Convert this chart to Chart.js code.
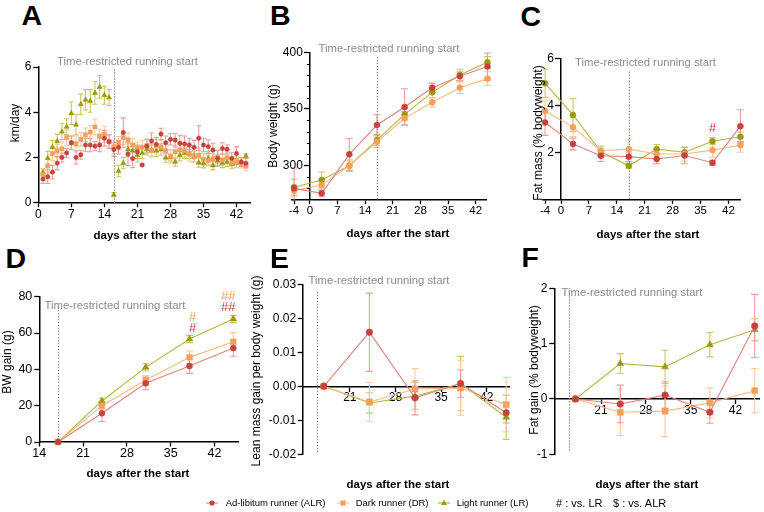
<!DOCTYPE html>
<html><head><meta charset="utf-8">
<script src="https://cdn.jsdelivr.net/npm/chart.js@4/dist/chart.umd.min.js"></script>
<style>
body{margin:0;width:764px;height:512px;background:#fff;position:relative;overflow:hidden;font-family:"Liberation Sans",Arial,sans-serif;}
canvas{position:absolute;}
.t{position:absolute;white-space:nowrap;color:#000;line-height:1;}
.lbl{font-weight:bold;font-size:28.5px;}
.ann{color:#8a8a8a;font-size:11.3px;transform:translate(-50%,-50%);}
.yt{font-size:12px;transform:translate(-50%,-50%) rotate(-90deg);}
.xt{font-size:11.5px;font-weight:bold;transform:translate(-50%,-50%);}
.lg{font-size:9.5px;transform:translateY(-50%);}
.nt{font-size:11px;transform:translateY(-50%);}
</style></head><body>
<script>
// ---------------- DATA ----------------
const runDays = [1,2,3,4,5,6,7,8,9,10,11,12,13,14,15,16,17,18,19,20,21,22,23,24,25,26,27,28,29,30,31,32,33,34,35,36,37,38,39,40,41,42,43,44];
const runALR = [1.05,1.15,1.35,1.75,2.0,2.2,2.65,2.0,2.12,2.55,2.55,2.5,2.55,2.85,2.7,2.35,2.45,3.1,2.15,1.95,2.25,1.67,2.5,2.73,2.58,3.04,2.65,2.8,2.77,2.63,2.6,2.55,2.45,2.85,2.55,2.48,2.33,1.96,2.4,2.36,1.96,2.18,1.8,1.74];
const runALRerr = [0.2,0.3,0.3,0.3,0.2,0.2,0.3,0.3,0.2,0.3,0.3,0.2,0.3,0.35,0.3,0.3,0.3,0.65,0.5,0.4,0.3,0.05,0.3,0.35,0.3,0.25,0.3,0.25,0.3,0.35,0.35,0.3,0.3,0.55,0.3,0.3,0.3,0.35,0.25,0.2,0.25,0.3,0.2,0.2];
const runDR = [1.25,1.63,2.17,2.28,2.38,2.88,2.65,2.6,2.8,3.0,3.12,3.35,2.95,3.03,2.7,2.47,2.63,2.88,2.78,2.55,2.42,2.45,2.5,2.32,2.5,2.45,2.3,2.05,2.25,2.33,2.3,2.14,2.03,2.1,1.92,1.86,1.92,2.03,1.89,1.99,1.77,1.81,1.74,1.62];
const runDRerr = [0.25,0.3,0.3,0.3,0.3,0.35,0.3,0.35,0.3,0.3,0.3,0.35,0.3,0.35,0.3,0.3,0.3,0.3,0.3,0.3,0.25,0.3,0.3,0.3,0.3,0.3,0.3,0.3,0.3,0.25,0.3,0.3,0.25,0.3,0.25,0.25,0.25,0.3,0.25,0.25,0.25,0.25,0.2,0.2];
const runLR = [1.35,1.97,2.45,2.72,3.14,3.36,3.95,3.45,4.35,4.55,4.5,4.85,5.12,4.75,4.65,0.35,1.4,1.75,2.35,2.3,2.1,2.2,2.36,2.3,2.3,2.35,1.99,2.0,1.81,2.1,2.2,2.15,2.05,1.77,1.74,1.96,1.65,1.85,1.75,1.8,1.7,1.75,1.8,2.06];
const runLRerr = [0.15,0.3,0.3,0.3,0.35,0.35,0.5,0.45,0.45,0.45,0.5,0.5,0.5,0.4,0.35,0.1,0.25,0.25,0.3,0.3,0.3,0.25,0.25,0.25,0.25,0.25,0.2,0.15,0.2,0.25,0.25,0.2,0.25,0.2,0.2,0.3,0.2,0.2,0.2,0.2,0.2,0.2,0.2,0.1];

const weekDays = [-4,3,10,17,24,31,38,45];
const bwALR = [280,275.6,310,335.9,351.8,368.8,378.8,387.4];
const bwALRerr = [18,3,14,9,16,4,4,12];
const bwDR = [278,283,300,321,341.8,355.9,368.8,376.8];
const bwDRerr = [5,5,4,5,6,4,5,6];
const bwLR = [281,287.4,300,322.6,345.3,364.7,380,391.2];
const bwLRerr = [7,7,5,5,5,5,5,5];

const fatALR = [3.28,2.36,1.86,1.82,1.72,1.87,1.56,3.12];
const fatALRerr = [0.55,0.25,0.25,0.2,0.2,0.35,0.1,0.7];
const fatDR = [3.77,3.08,2.07,2.14,1.93,1.93,2.1,2.31];
const fatDRerr = [0.45,0.4,0.2,0.4,0.2,0.3,0.3,0.3];
const fatLR = [4.95,3.6,2.03,1.43,2.14,2.01,2.48,2.67];
const fatLRerr = [0.6,0.7,0.2,0.1,0.2,0.2,0.15,0.2];

const gainDays = [17,24,31,38,45];
const bwgALR = [0,15.8,32.3,41.8,51.7];
const bwgALRerr = [0,4.5,3.5,4,4.5];
const bwgDR = [0,20,34.1,46.6,55.2];
const bwgDRerr = [0,2,2.5,3.5,5];
const bwgLR = [0,22.6,41.1,56.7,67.7];
const bwgLRerr = [0,1.5,2,2,2];

const leanALR = [0,0.0159,-0.0034,0.0008,-0.0078];
const leanALRerr = [0,0.0115,0.005,0.004,0.003];
const leanDR = [0,-0.0046,-0.0008,-0.0005,-0.0054];
const leanDRerr = [0,0.0057,0.006,0.008,0.008];
const leanLR = [0,-0.0049,-0.0029,0.0008,-0.0091];
const leanLRerr = [0,0.003,0.004,0.008,0.0065];

const fgALR = [0,-0.09,0.07,-0.24,1.32];
const fgALRerr = [0,0.34,0.24,0.2,0.57];
const fgDR = [0,-0.24,-0.22,-0.07,0.15];
const fgDRerr = [0,0.42,0.46,0.27,0.4];
const fgLR = [0,0.64,0.58,0.98,1.25];
const fgLRerr = [0,0.18,0.3,0.22,0.2];

const ticksA_x = [0,7,14,21,28,35,42];
const ticksA_y = [0,2,4,6];
const ticksBC_x = [-4,0,7,14,21,28,35,42];
const ticksB_y = [300,350,400];
const minorB_y = [280,290,310,320,330,340,360,370,380,390];
const ticksC_y = [2,4,6];
const ticksD_x = [14,21,28,35,42];
const ticksD_y = [0,20,40,60,80];
const ticksEF_x = [21,28,35,42];
const ticksE_y = [-0.02,-0.01,0,0.01,0.02,0.03];
const ticksF_y = [-1,0,1,2];

const seriesNames = ['Ad-libitum runner (ALR)','Dark runner (DR)','Light runner (LR)'];
const annText = 'Time-restricted running start';

// ---------------- STYLE ----------------
const FONT = "'Liberation Sans', Arial, Helvetica, sans-serif";
const COL = {ALR:'#c8413c', DR:'#f5a05a', LR:'#9a9a0a'};
const LINE = {ALR:'#dc8580', DR:'#f7bb86', LR:'#b5b545'};
const ERR = {ALR:'#e6a09c', DR:'#f9c9a0', LR:'#c8c866'};

// ---------------- PLUGINS ----------------
const errorBars = {
  id:'errorBars',
  beforeDatasetsDraw(chart, args, o){
    const {ctx, scales:{x,y}, chartArea:ca} = chart;
    const cap = o.cap || 3;
    ctx.save();
    ctx.beginPath(); ctx.rect(ca.left-20, ca.top-20, ca.right-ca.left+40, ca.bottom-ca.top+20); ctx.clip();
    for (let di = chart.data.datasets.length-1; di>=0; di--){
      const ds = chart.data.datasets[di];
      if(!ds.errors) continue;
      ctx.strokeStyle = ds.errorColor; ctx.lineWidth = 1.1;
      ds.data.forEach((p,i)=>{
        const e = ds.errors[i]; if(!e) return;
        const px = x.getPixelForValue(p.x), y1 = y.getPixelForValue(p.y+e), y2 = y.getPixelForValue(p.y-e);
        ctx.beginPath();
        ctx.moveTo(px,y1); ctx.lineTo(px,y2);
        ctx.moveTo(px-cap,y1); ctx.lineTo(px+cap,y1);
        ctx.moveTo(px-cap,y2); ctx.lineTo(px+cap,y2);
        ctx.stroke();
      });
    }
    ctx.restore();
  }
};
const vline = {
  id:'vline',
  beforeDatasetsDraw(chart, args, o){
    if(o.x===undefined) return;
    const {ctx, scales:{x,y}} = chart;
    const px = Math.round(x.getPixelForValue(o.x))+0.5;
    ctx.save(); ctx.strokeStyle='#8a8a8a'; ctx.lineWidth=1.1; ctx.setLineDash([1.5,1.5]);
    ctx.beginPath(); ctx.moveTo(px, y.getPixelForValue(o.top)); ctx.lineTo(px, y.getPixelForValue(o.bottom)); ctx.stroke();
    ctx.restore();
  }
};
const marks = {
  id:'marks',
  afterDatasetsDraw(chart, args, o){
    if(!o.items) return;
    const {ctx, scales:{x,y}} = chart;
    ctx.save(); ctx.font = '13px '+FONT; ctx.textAlign='center'; ctx.textBaseline='middle';
    o.items.forEach(m=>{ ctx.fillStyle=m.c; ctx.fillText(m.t, x.getPixelForValue(m.x), y.getPixelForValue(m.y)); });
    ctx.restore();
  }
};
const minorTicks = {
  id:'minorTicks',
  afterDraw(chart, args, o){
    if(!o.values) return;
    const {ctx, scales:{x,y}} = chart;
    const ax = x.getPixelForValue(o.at);
    ctx.save(); ctx.strokeStyle='#000'; ctx.lineWidth=1;
    o.values.forEach(v=>{ const py = Math.round(y.getPixelForValue(v))+0.5; ctx.beginPath(); ctx.moveTo(ax-3,py); ctx.lineTo(ax,py); ctx.stroke(); });
    ctx.restore();
  }
};
// tick labels for a y axis that sits inside the plot (at x = value)
const yInnerLabels = {
  id:'yInnerLabels',
  afterDraw(chart, args, o){
    if(o.at===undefined) return;
    const {ctx, scales:{x,y}} = chart;
    const ax = x.getPixelForValue(o.at);
    ctx.save(); ctx.fillStyle='#000'; ctx.font = (o.fs||12)+'px '+FONT; ctx.textAlign='right'; ctx.textBaseline='middle';
    y.ticks.forEach(t=>{ ctx.fillText(String(t.value), ax - o.off, y.getPixelForValue(t.value)); });
    ctx.restore();
  }
};

function pts(xs, ys){ return xs.map((x,i)=>({x:x, y:ys[i]})); }
function series(key, name, xs, ys, errs, style, r, showLine){
  return {label:name, data:pts(xs,ys), errors:errs, errorColor:ERR[key],
    borderColor:LINE[key], backgroundColor:COL[key], pointBackgroundColor:COL[key], pointBorderColor:COL[key],
    pointStyle:style, pointRadius:r, pointBorderWidth:0.5, borderWidth:1.1, showLine:showLine, clip:false, tension:0};
}
function axis(o){
  return {
    type:'linear', position:o.pos, min:o.min, max:o.max,
    border:{display:true, color:'#000', width:1.5},
    grid:{display:true, drawOnChartArea:false, drawTicks:true, tickLength:o.tl||5, color:'#000', tickWidth:1.3},
    ticks:{display:o.hide?false:true, color:'#000', font:{family:FONT, size:o.fs||12}, padding:o.pad===undefined?2:o.pad, autoSkip:false, maxRotation:0,
      callback:o.fmt || (v=>String(v))},
    afterBuildTicks:s=>{ s.ticks = o.ticks.map(v=>({value:v})); },
    afterFit:o.fit
  };
}
function panel(cr, plot, o){
  const cv = document.createElement('canvas');
  cv.width = cr.w; cv.height = cr.h;
  cv.style.left = cr.l+'px'; cv.style.top = cr.t+'px';
  cv.style.width = cr.w+'px'; cv.style.height = cr.h+'px';
  document.body.appendChild(cv);
  const yIn = typeof o.y.pos === 'object', xIn = typeof o.x.pos === 'object';
  const yW = plot.l - cr.l, xH = cr.t + cr.h - plot.b;
  const padding = {left: yIn ? yW : 0, top: plot.t - cr.t, right: cr.l + cr.w - plot.r, bottom: xIn ? xH : 0};
  o.x.fit = xIn ? undefined : (s=>{ s.height = xH; });
  o.y.fit = yIn ? undefined : (s=>{ s.width = yW; });
  if (yIn) o.y.hide = true;
  new Chart(cv, {
    type:'line',
    data:{datasets:o.datasets},
    options:{
      responsive:false, animation:false, events:[],
      layout:{padding:padding},
      plugins:{legend:{display:false}, tooltip:{enabled:false},
        vline:o.vline||{}, marks:{items:o.marks}, minorTicks:o.minor||{}, errorBars:{cap:o.cap},
        yInnerLabels: yIn ? {at:o.y.pos.x, off:7, fs:o.y.fs||12} : {}},
      scales:{x:axis(o.x), y:axis(o.y)}
    },
    plugins:[errorBars, vline, marks, minorTicks, yInnerLabels]
  });
}
function text(cls, str, x, y, extra){
  const d = document.createElement('div'); d.className = 't '+cls; d.textContent = str;
  d.style.left = x+'px'; d.style.top = y+'px';
  if(extra) Object.assign(d.style, extra);
  document.body.appendChild(d); return d;
}

// ---------------- PANELS ----------------
// A
panel({l:0,t:50,w:262,h:180},{l:38.3,t:67,r:250.7,b:202.7},{
  x:{pos:'bottom', min:0, max:45, ticks:ticksA_x, tl:4.5, pad:0},
  y:{pos:'left', min:0, max:6, ticks:ticksA_y, pad:2},
  cap:2.5, vline:{x:16, top:5.9, bottom:0},
  datasets:[
    series('ALR',seriesNames[0],runDays,runALR,runALRerr,'circle',2.2,false),
    series('DR',seriesNames[1],runDays,runDR,runDRerr,'rect',3,false),
    series('LR',seriesNames[2],runDays,runLR,runLRerr,'triangle',3,false)
  ]
});
// B
panel({l:262,t:40,w:240,h:190},{l:291.7,t:52.3,r:486.7,b:199.7},{
  x:{pos:'bottom', min:-4.6, max:44.8, ticks:ticksBC_x, tl:4.5, pad:0, fs:11.5},
  y:{pos:{x:0}, min:270, max:400, ticks:ticksB_y, pad:2},
  cap:3.5, vline:{x:17, top:396, bottom:270}, minor:{at:0, values:minorB_y},
  datasets:[
    series('ALR',seriesNames[0],weekDays,bwALR,bwALRerr,'circle',3,true),
    series('DR',seriesNames[1],weekDays,bwDR,bwDRerr,'circle',3,true),
    series('LR',seriesNames[2],weekDays,bwLR,bwLRerr,'circle',3,true)
  ]
});
// C
panel({l:512,t:40,w:252,h:190},{l:542.7,t:58.7,r:740,b:199.3},{
  x:{pos:'bottom', min:-4.6, max:44.9, ticks:ticksBC_x, tl:4.5, pad:0, fs:11.5},
  y:{pos:{x:0}, min:0, max:6, ticks:ticksC_y, pad:2},
  cap:3.5, vline:{x:17, top:5.45, bottom:0},
  marks:[{x:38,y:3.03,t:'#',c:COL.ALR}],
  datasets:[
    series('ALR',seriesNames[0],weekDays,fatALR,fatALRerr,'circle',3,true),
    series('DR',seriesNames[1],weekDays,fatDR,fatDRerr,'circle',3,true),
    series('LR',seriesNames[2],weekDays,fatLR,fatLRerr,'circle',3,true)
  ]
});
// D
panel({l:0,t:280,w:250,h:190},{l:39.3,t:296.7,r:238.3,b:442},{
  x:{pos:'bottom', min:14, max:45.8, ticks:ticksD_x, tl:4.5, pad:0, fs:12.5},
  y:{pos:'left', min:0, max:80, ticks:ticksD_y, pad:2, fs:12.5},
  cap:3.5, vline:{x:17, top:74.5, bottom:0},
  marks:[{x:38.5,y:68.7,t:'#',c:COL.DR},{x:38.5,y:62.6,t:'#',c:COL.ALR},{x:44.2,y:80,t:'##',c:COL.DR},{x:44.2,y:74,t:'##',c:COL.ALR}],
  datasets:[
    series('ALR',seriesNames[0],gainDays,bwgALR,bwgALRerr,'circle',3,true),
    series('DR',seriesNames[1],gainDays,bwgDR,bwgDRerr,'rect',4,true),
    series('LR',seriesNames[2],gainDays,bwgLR,bwgLRerr,'triangle',4,true)
  ]
});
// E
panel({l:262,t:270,w:252,h:200},{l:302.7,t:284.3,r:511,b:454.3},{
  x:{pos:{y:0}, min:13.76, max:45.46, ticks:ticksEF_x, tl:4.5, pad:0},
  y:{pos:'left', min:-0.02, max:0.03, ticks:ticksE_y, pad:1.5, fmt:(v=>v.toFixed(2))},
  cap:3.5, vline:{x:16, top:0.0278, bottom:-0.0197},
  datasets:[
    series('ALR',seriesNames[0],gainDays,leanALR,leanALRerr,'circle',3.3,true),
    series('DR',seriesNames[1],gainDays,leanDR,leanDRerr,'rect',4.3,true),
    series('LR',seriesNames[2],gainDays,leanLR,leanLRerr,'triangle',4,true)
  ]
});
// F
panel({l:514,t:270,w:250,h:200},{l:554.3,t:288.3,r:762,b:454.3},{
  x:{pos:{y:0}, min:13.7, max:45.7, ticks:ticksEF_x, tl:4.5, pad:0},
  y:{pos:'left', min:-1, max:2, ticks:ticksF_y, pad:2},
  cap:3.5, vline:{x:16, top:1.91, bottom:-0.95},
  datasets:[
    series('ALR',seriesNames[0],gainDays,fgALR,fgALRerr,'circle',3.3,true),
    series('DR',seriesNames[1],gainDays,fgDR,fgDRerr,'rect',4.3,true),
    series('LR',seriesNames[2],gainDays,fgLR,fgLRerr,'triangle',4,true)
  ]
});

// ---------------- TEXT ----------------
text('lbl','A',21.5,1); text('lbl','B',270,1); text('lbl','C',520.5,1.5);
text('lbl','D',5.5,244); text('lbl','E',270,243.5); text('lbl','F',521.5,242.5);
[[127.5,62],[389,49.3],[645.5,63.3],[115,306],[379,281],[632,293.3]].forEach(p=>text('ann',annText,p[0],p[1]));
text('yt','km/day',15,123);
text('yt','Body weight (g)',273,126);
text('yt','Fat mass (% bodyweight)',537.5,133);
text('yt','BW gain (g)',6.5,362);
text('yt','Lean mass gain per body weight (g)',256,371);
text('yt','Fat gain (% bodyweight)',534,370);
[[145,236],[398,234],[648,235],[138,474],[398,485],[647,485]].forEach(p=>text('xt','days after the start',p[0],p[1]));

// legend
function icon(cx, key, shape){
  const s = document.createElementNS('http://www.w3.org/2000/svg','svg');
  s.setAttribute('width','14'); s.setAttribute('height','10');
  s.style.position='absolute'; s.style.left=(cx-7)+'px'; s.style.top=(503.3-5)+'px';
  let m = '';
  if(shape==='circle') m = `<circle cx="7" cy="5" r="2.6" fill="${COL[key]}"/>`;
  if(shape==='rect') m = `<rect x="4.4" y="2.4" width="5.2" height="5.2" fill="${COL[key]}"/>`;
  if(shape==='triangle') m = `<polygon points="7,1.8 10,7 4,7" fill="${COL[key]}"/>`;
  s.innerHTML = `<line x1="1" y1="5" x2="13" y2="5" stroke="${LINE[key]}" stroke-width="1.1"/>`+m;
  document.body.appendChild(s);
}
icon(212.3,'ALR','circle'); icon(342.5,'DR','rect'); icon(444,'LR','triangle');
text('lg',seriesNames[0],225.7,503.3);
text('lg',seriesNames[1],355.7,503.3);
text('lg',seriesNames[2],456.7,503.3);
text('nt','# : vs. LR',556,503.3);
text('nt','$ : vs. ALR',613,503.3);
</script>
</body></html>
